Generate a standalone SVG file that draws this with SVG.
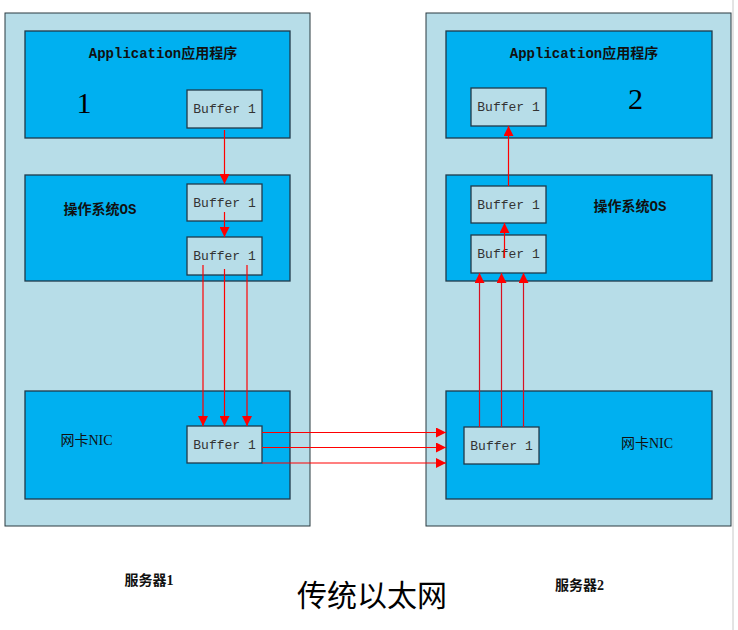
<svg xmlns="http://www.w3.org/2000/svg" width="738" height="630" viewBox="0 0 738 630">
<defs>
<style>
.server{fill:#b7dde8;stroke:#2b3a40;stroke-width:1}
.layer{fill:#00b0f0;stroke:#1f3a4a;stroke-width:1.3}
.buf{fill:#b7dde8;stroke:#1f3a4a;stroke-width:1.3}
.bt{font-family:"Liberation Mono","Noto Sans CJK SC",monospace;font-size:13px;fill:#333;text-anchor:middle}
.lbl{font-family:"Liberation Mono","Noto Sans CJK SC",monospace;font-size:14px;fill:#111;text-anchor:middle}
.ser{font-family:"Liberation Serif","Noto Sans CJK SC",serif}
.b{font-weight:bold}
.num{font-family:"Liberation Serif",serif;font-size:30px;fill:#000;text-anchor:middle}
.title{font-family:"Liberation Serif","Noto Sans CJK SC",serif;font-size:30px;fill:#000;text-anchor:middle}
.con{stroke:#ff0000;stroke-width:1.2;fill:none}
.con2{stroke:#d81020;stroke-width:1.2;fill:none}
</style>
<marker id="ah" viewBox="0 0 10 10" refX="10" refY="5" markerWidth="11" markerHeight="10" markerUnits="userSpaceOnUse" orient="auto">
<path d="M0,0 L10,5 L0,10 z" fill="#ff0000"/>
</marker>
</defs>
<rect width="738" height="630" fill="#ffffff"/>
<line x1="733" y1="0" x2="733" y2="630" stroke="#c8c8c8" stroke-width="1"/>

<g id="server1">
<rect class="server" x="5" y="13" width="305" height="513"/>
</g>
<g id="server2">
<rect class="server" x="426" y="13" width="305" height="513"/>
</g>

<g id="app1">
<rect class="layer" x="25" y="31" width="265" height="107"/>
<text class="lbl b" x="163" y="58">Application应用程序</text>
<text class="num" x="84" y="113">1</text>
</g>
<g id="app1-buffer">
<rect class="buf" x="187" y="90" width="75" height="38"/>
<text class="bt" x="224.5" y="113">Buffer 1</text>
</g>
<g id="os1">
<rect class="layer" x="25" y="175" width="265" height="106"/>
<text class="lbl b" x="100" y="214">操作系统OS</text>
</g>
<g id="os1-buffer-a">
<rect class="buf" x="187" y="184" width="75" height="37"/>
<text class="bt" x="224.5" y="207">Buffer 1</text>
</g>
<g id="os1-buffer-b">
<rect class="buf" x="187" y="237" width="75" height="38"/>
<text class="bt" x="224.5" y="260">Buffer 1</text>
</g>
<g id="nic1">
<rect class="layer" x="25" y="391" width="265" height="108"/>
<text class="lbl ser" x="86.5" y="445">网卡NIC</text>
</g>
<g id="nic1-buffer">
<rect class="buf" x="187" y="426" width="75" height="37"/>
<text class="bt" x="224.5" y="449">Buffer 1</text>
</g>

<g id="app2">
<rect class="layer" x="446" y="31" width="266" height="107"/>
<text class="lbl b" x="584" y="58">Application应用程序</text>
<text class="num" x="635.5" y="109">2</text>
</g>
<g id="app2-buffer">
<rect class="buf" x="471" y="88" width="75" height="38"/>
<text class="bt" x="508.5" y="111">Buffer 1</text>
</g>
<g id="os2">
<rect class="layer" x="446" y="175" width="266" height="106"/>
<text class="lbl b" x="630" y="211">操作系统OS</text>
</g>
<g id="os2-buffer-a">
<rect class="buf" x="471" y="186" width="75" height="37"/>
<text class="bt" x="508.5" y="209">Buffer 1</text>
</g>
<g id="os2-buffer-b">
<rect class="buf" x="471" y="235" width="75" height="38"/>
<text class="bt" x="508.5" y="258">Buffer 1</text>
</g>
<g id="nic2">
<rect class="layer" x="446" y="391" width="266" height="108"/>
<text class="lbl ser" x="647" y="448">网卡NIC</text>
</g>
<g id="nic2-buffer">
<rect class="buf" x="464" y="427" width="75" height="37"/>
<text class="bt" x="501.5" y="450">Buffer 1</text>
</g>

<g id="connectors">
<line class="con" x1="224.5" y1="130" x2="224.5" y2="184" marker-end="url(#ah)"/>
<line class="con" x1="224.5" y1="212" x2="224.5" y2="237" marker-end="url(#ah)"/>
<line class="con" x1="203" y1="265" x2="203" y2="426" marker-end="url(#ah)"/>
<line class="con" x1="224.5" y1="269" x2="224.5" y2="426" marker-end="url(#ah)"/>
<line class="con" x1="247" y1="265" x2="247" y2="426" marker-end="url(#ah)"/>
<line class="con" x1="262" y1="432.5" x2="446" y2="432.5" marker-end="url(#ah)"/>
<line class="con" x1="262" y1="447.5" x2="446" y2="447.5" marker-end="url(#ah)"/>
<line class="con" x1="262" y1="463" x2="446" y2="463" marker-end="url(#ah)"/>
<line class="con2" x1="479.5" y1="427" x2="479.5" y2="273" marker-end="url(#ah)"/>
<line class="con2" x1="501.5" y1="427" x2="501.5" y2="273" marker-end="url(#ah)"/>
<line class="con2" x1="523.5" y1="427" x2="523.5" y2="273" marker-end="url(#ah)"/>
<line class="con" x1="504.5" y1="258" x2="504.5" y2="223" marker-end="url(#ah)"/>
<line class="con" x1="508.5" y1="186" x2="508.5" y2="126" marker-end="url(#ah)"/>
</g>

<g id="captions">
<text class="lbl ser b" x="149" y="585">服务器1</text>
<text class="lbl ser b" x="579.5" y="590">服务器2</text>
<text class="title" x="372" y="606">传统以太网</text>
</g>
</svg>
